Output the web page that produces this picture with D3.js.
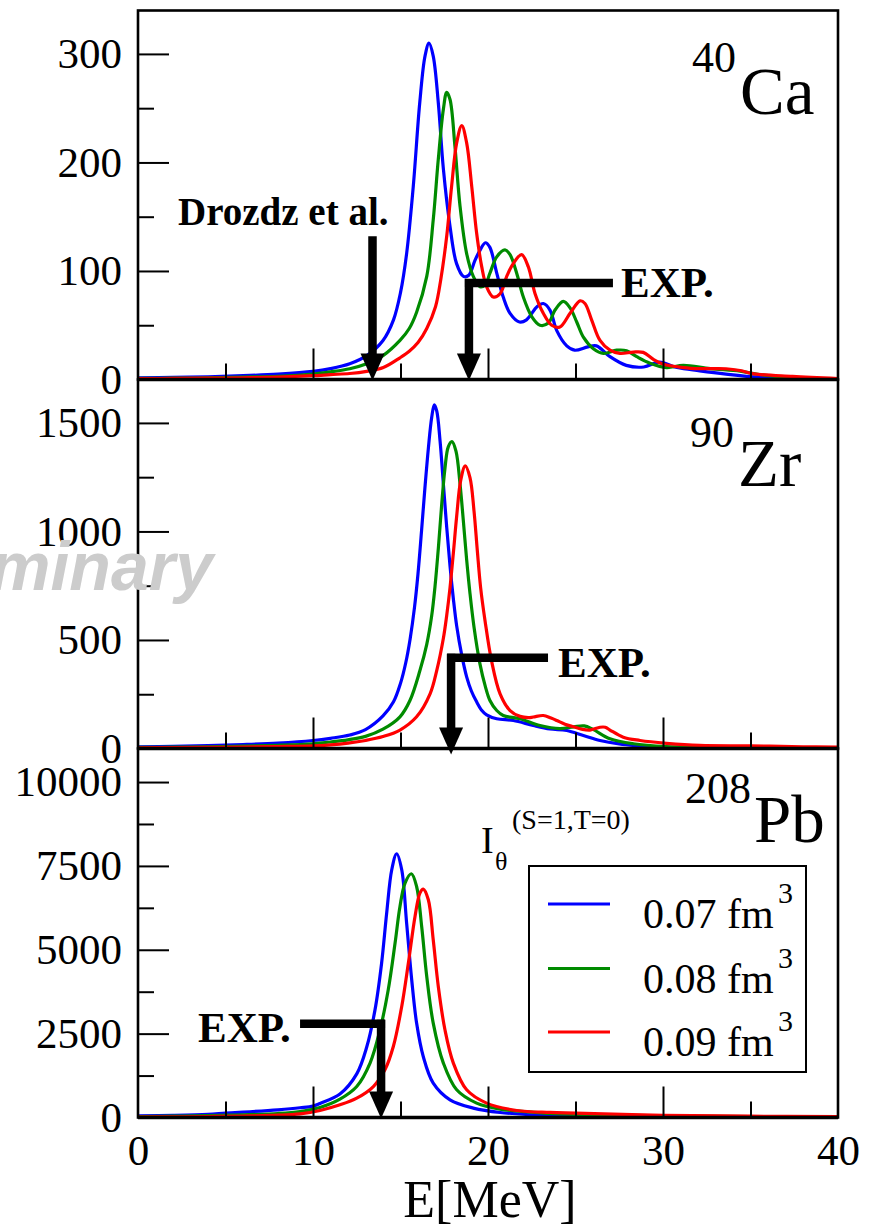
<!DOCTYPE html>
<html><head><meta charset="utf-8">
<script src="https://cdn.jsdelivr.net/npm/d3@7"></script>
<style>
html,body{margin:0;padding:0;background:#fff;}
svg{display:block;}
text{font-family:"Liberation Serif","Times New Roman",serif;fill:#000;}
</style></head>
<body>
<script>
// ---------------- DATA ----------------
const seriesNames = ["0.07 fm", "0.08 fm", "0.09 fm"];
const seriesColors = ["#0000ff", "#008b00", "#ff0000"];
const xTicksMajor = [0, 10, 20, 30, 40];
const xTicksMinor = [5, 15, 25, 35];

// 40Ca  [E (MeV), strength]
const caBlue = [[0,1.5],[2,2],[4,2.5],[6,3.5],[8,5],[10,7.5],[11,10],[12.1,14.5],[13.07,22],[14,36],[14.6,55],[15,80],[15.35,116],[15.73,178],[16.1,255],[16.4,298],[16.63,310],[16.87,298],[17.16,255],[17.45,194],[17.83,141],[18.2,107],[18.6,95],[18.9,96],[19.26,110],[19.54,119],[19.85,126],[20.1,122],[20.5,98],[20.87,76],[21.26,61],[21.8,53],[22.2,55],[22.8,67],[23.16,70],[23.54,64],[23.93,45],[24.5,31],[24.95,27],[25.7,30],[26.2,31],[26.97,21],[27.9,13],[28.9,11.5],[29.8,16],[30.8,11],[32.1,8],[33.6,5],[35.5,2],[37.4,0.8],[40,0.3]];
const caGreen = [[0,1],[2,1.2],[4,1.5],[6,2.2],[8,3],[10,5],[11,7],[12.1,9.9],[13.07,14.5],[14,22],[14.97,36],[15.5,47],[15.92,62],[16.5,95],[16.87,147],[17.16,203],[17.45,249],[17.64,264.5],[17.83,258],[18.11,215],[18.4,160],[18.78,116],[19.16,95],[19.54,85.5],[19.83,87],[20.11,98],[20.5,113],[20.97,119.4],[21.26,115],[21.64,98],[22.02,76],[22.5,58],[22.97,50],[23.45,52],[23.83,64],[24.3,72],[24.69,66],[25.07,53],[25.45,39],[26.02,28.4],[26.6,24],[27.35,27],[27.92,26.5],[28.5,21],[29.26,15],[30.2,11],[31.16,13],[32.7,10],[34.4,7.7],[35.5,4.6],[37.4,1.5],[40,0.5]];
const caRed = [[0,0.8],[2,1],[4,1.2],[6,1.6],[8,2.2],[10,3.5],[11,4.5],[12.1,5.5],[13.07,7.5],[14.02,11],[14.97,20],[15.5,26],[16,34],[16.5,47],[17,67],[17.3,92],[17.64,132],[17.92,178],[18.21,218],[18.5,234],[18.78,218],[19.07,178],[19.35,135],[19.64,104],[19.92,85.5],[20.3,76],[20.69,79],[21.07,95],[21.45,107],[21.92,115],[22.3,104],[22.69,79],[23.16,61],[23.64,50],[24.11,48.4],[24.69,61],[25.26,72.5],[25.54,70],[25.92,55],[26.4,36],[26.97,27],[27.54,24],[28.3,25.3],[28.87,25],[29.45,18.5],[30.02,14],[31.16,11],[32.1,10],[33.6,9.9],[34.4,8.3],[35.2,5.2],[37.4,2.8],[40,0.8]];

// 90Zr
const zrBlue = [[0,8],[2,10],[4,13],[6,18],[8,25],[10,37],[11,47],[12.1,62],[13,87],[14,150],[14.6,215],[15,300],[15.3,395],[15.55,505],[15.8,650],[16,805],[16.2,1000],[16.4,1205],[16.6,1390],[16.78,1524],[16.93,1583],[17.07,1555],[17.26,1417],[17.45,1218],[17.64,1020],[17.83,840],[18.02,690],[18.21,565],[18.5,430],[18.78,330],[19.05,265],[19.35,215],[19.65,175],[19.92,155],[20.5,137],[21.45,129],[22.59,106],[23.54,90],[24.5,83],[25.45,60],[26.4,37],[27.5,21],[28.5,13],[29.26,9],[31,5],[33,3],[36,2],[40,1]];
const zrGreen = [[0,5],[2,6],[4,8],[6,11],[8,15],[10,22],[11,30],[12,40],[13,56],[14,89],[14.97,146],[15.54,221],[16.11,359],[16.5,480],[16.78,610],[16.97,745],[17.16,920],[17.35,1120],[17.54,1290],[17.73,1390],[17.94,1414],[18.17,1370],[18.4,1220],[18.59,1050],[18.78,870],[18.97,715],[19.2,560],[19.54,390],[19.85,285],[20.11,221],[20.5,175],[20.87,152],[21.83,137],[22.97,106],[24.11,92],[24.9,100],[25.5,104],[26,88],[26.97,45],[28.3,22],[30.2,9],[32.1,6],[35,4],[40,2]];
const zrRed = [[0,3],[2,4],[4,5],[6,7],[8,9],[10,12],[11,17],[12,25],[13,37],[14,55],[14.97,85],[15.92,146],[16.69,252],[17.07,359],[17.45,508],[17.64,613],[17.83,741],[18.02,900],[18.21,1070],[18.44,1235],[18.7,1302],[18.97,1248],[19.2,1095],[19.39,911],[19.58,740],[19.83,589],[20.2,405],[20.69,252],[21.26,175],[21.83,148],[22.3,142],[22.59,145],[23.16,152],[23.6,140],[23.93,129],[24.4,112],[24.88,100],[25.4,88],[25.83,85],[26.4,98],[26.7,98],[26.97,85],[27.73,52],[28.69,37],[30.2,24],[32.1,14],[35,12],[38,8],[40,6]];

// 208Pb
const pbBlue = [[0,50],[2,65],[4,95],[5,131],[6,160],[8,230],[9.26,290],[10,340],[10.4,420],[11.54,700],[12.5,1300],[13.07,2100],[13.54,3200],[13.92,4600],[14.21,6094],[14.5,7385],[14.78,7862],[15.07,7385],[15.35,5796],[15.64,4106],[15.92,2815],[16.3,1819],[16.87,1026],[17.83,528],[19.16,280],[20.69,149],[23.54,60],[25,45],[30,20],[35,12],[40,8]];
const pbGreen = [[0,30],[2,40],[4,55],[6,80],[8,120],[9.26,179],[10.4,300],[11.54,548],[12.5,924],[13.26,1622],[13.83,2615],[14.3,3808],[14.69,5200],[14.97,6291],[15.26,6989],[15.62,7266],[15.92,6887],[16.21,5695],[16.5,4204],[16.87,2815],[17.45,1622],[18.21,826],[19.35,429],[20.69,250],[23.54,120],[25,95],[30,50],[35,30],[40,20]];
const pbRed = [[0,15],[2,20],[4,30],[6,45],[8,70],[9.26,110],[10.4,210],[11.54,379],[12.5,578],[13.45,924],[14.11,1422],[14.59,2117],[15.07,3310],[15.45,4603],[15.83,5993],[16.11,6690],[16.3,6810],[16.59,6491],[16.87,5298],[17.16,3906],[17.54,2615],[18.02,1622],[18.78,826],[19.92,429],[21.64,209],[23.54,150],[25,130],[30,65],[35,40],[40,25]];

const caYTicks = [0, 100, 200, 300];
const caYMinor = [50, 150, 250];
const zrYTicks = [0, 500, 1000, 1500];
const zrYMinor = [250, 750, 1250];
const pbYTicks = [0, 2500, 5000, 7500, 10000];
const pbYMinor = [1250, 3750, 6250, 8750];
const yMax = [340, 1700, 11000];

const nucleusMass = ["40", "90", "208"];
const nucleusName = ["Ca", "Zr", "Pb"];

// annotation arrows
const arrowE = [13.4, 18.91, 17.89, 13.89];
const arrowTopV = [132, 88.9, 418, 2794];
const arrowBarEndE = [null, 27.14, 23.43, 9.26];
const arrowPanel = [0, 0, 1, 2];
const arrowLabel = ["Drozdz et al.", "EXP.", "EXP.", "EXP."];

// ---------------- LAYOUT ----------------
const W = 874, H = 1228;
const L = 138, R = 838, PH = 369;
const tops = [10.5, 379.5, 748.5];
const svg = d3.select("body").append("svg").attr("width", W).attr("height", H);
const fmt = d3.format("d");

const x = d3.scaleLinear().domain([0, 40]).range([L, R]);
const panels = [
  {series: [caBlue, caGreen, caRed], ticks: caYTicks, minor: caYMinor},
  {series: [zrBlue, zrGreen, zrRed], ticks: zrYTicks, minor: zrYMinor},
  {series: [pbBlue, pbGreen, pbRed], ticks: pbYTicks, minor: pbYMinor}
];
const yScales = panels.map((p, i) => d3.scaleLinear().domain([0, yMax[i]]).range([tops[i] + PH, tops[i]]));

panels.forEach((p, i) => {
  const y = yScales[i];
  const g = svg.append("g");
  g.append("clipPath").attr("id", "clip" + i).append("rect")
    .attr("x", L).attr("y", tops[i]).attr("width", R - L).attr("height", PH);
  const line = d3.line().x(d => x(d[0])).y(d => y(d[1])).curve(d3.curveCatmullRom.alpha(0.5));
  const cg = g.append("g").attr("clip-path", `url(#clip${i})`);
  p.series.forEach((s, k) => {
    cg.append("path").datum(s).attr("d", line).attr("fill", "none")
      .attr("stroke", seriesColors[k]).attr("stroke-width", 3.2).attr("stroke-linejoin", "round");
  });
  const yAx = g.append("g").attr("transform", `translate(${L},0)`)
    .call(d3.axisLeft(y).tickValues(p.ticks).tickSize(-31).tickSizeOuter(0).tickPadding(16).tickFormat(fmt));
  const yMin = g.append("g").attr("transform", `translate(${L},0)`)
    .call(d3.axisLeft(y).tickValues(p.minor).tickSize(-16).tickSizeOuter(0).tickFormat(""));
  const xAx = g.append("g").attr("transform", `translate(0,${tops[i] + PH})`)
    .call(d3.axisBottom(x).tickValues(xTicksMajor.filter(v => v > 0 && v < 40)).tickSize(-31).tickSizeOuter(0).tickFormat(""));
  const xMin = g.append("g").attr("transform", `translate(0,${tops[i] + PH})`)
    .call(d3.axisBottom(x).tickValues(xTicksMinor).tickSize(-16).tickSizeOuter(0).tickFormat(""));
  [yAx, yMin, xAx, xMin].forEach(a => {
    a.select(".domain").remove();
    a.selectAll("line").attr("stroke", "#000").attr("stroke-width", 2);
    a.selectAll("text").attr("font-family", "Liberation Serif, Times New Roman, serif")
      .attr("font-size", 43).attr("fill", "#000");
  });
  g.append("rect").attr("x", L).attr("y", tops[i]).attr("width", R - L).attr("height", PH)
    .attr("fill", "none").attr("stroke", "#000").attr("stroke-width", 2.6);
  g.append("line").attr("x1", L).attr("x2", R).attr("y1", tops[i] + PH).attr("y2", tops[i] + PH)
    .attr("stroke", "#000").attr("stroke-width", 3.4);
});

// x tick labels on bottom panel
const xLab = svg.append("g").attr("transform", `translate(0,${tops[2] + PH})`)
  .call(d3.axisBottom(x).tickValues(xTicksMajor).tickSize(0).tickPadding(17).tickFormat(fmt));
xLab.select(".domain").remove();
xLab.selectAll("text").attr("font-family", "Liberation Serif, Times New Roman, serif")
  .attr("font-size", 43).attr("fill", "#000");

svg.append("text").attr("x", 490).attr("y", 1217).attr("text-anchor", "middle")
  .attr("font-size", 52).text("E[MeV]");

// nucleus labels
const supPos = [[692, 72], [690, 447], [685, 803]];
const mainPos = [[740, 114], [738, 486], [754, 842]];
nucleusMass.forEach((m, i) => {
  svg.append("text").attr("x", supPos[i][0]).attr("y", supPos[i][1]).attr("font-size", 44).text(m);
  svg.append("text").attr("x", mainPos[i][0]).attr("y", mainPos[i][1]).attr("font-size", 67).text(nucleusName[i]);
});

// I_theta^(S=1,T=0)
svg.append("text").attr("x", 481).attr("y", 853).attr("font-size", 38).text("I");
svg.append("text").attr("x", 495).attr("y", 870).attr("font-size", 26).text("θ");
svg.append("text").attr("x", 512).attr("y", 829).attr("font-size", 28).text("(S=1,T=0)");

// arrows
arrowE.forEach((e, j) => {
  const y = yScales[arrowPanel[j]];
  const ax = x(e), ay = y(arrowTopV[j]);
  const tipY = y(0) + (arrowPanel[j] === 1 ? 6 : 1);
  const headH = 27, headW = 12;
  const g = svg.append("g");
  g.append("line").attr("x1", ax).attr("x2", ax).attr("y1", ay - (arrowBarEndE[j] === null ? 0 : 4)).attr("y2", tipY - headH + 2)
    .attr("stroke", "#000").attr("stroke-width", 8.5);
  if (arrowBarEndE[j] !== null) {
    const bx = x(arrowBarEndE[j]);
    g.append("line").attr("x1", Math.min(ax, bx) - (bx < ax ? 0 : 4)).attr("x2", Math.max(ax, bx) + (bx < ax ? 4 : 0))
      .attr("y1", ay).attr("y2", ay).attr("stroke", "#000").attr("stroke-width", 8.5);
  }
  g.append("path").attr("d", `M${ax - headW},${tipY - headH} L${ax + headW},${tipY - headH} L${ax},${tipY} Z`).attr("fill", "#000");
});
svg.append("text").attr("x", 178).attr("y", 225).attr("font-size", 39).attr("font-weight", "bold").text(arrowLabel[0]);
svg.append("text").attr("x", 621).attr("y", 297).attr("font-size", 43).attr("font-weight", "bold").text(arrowLabel[1]);
svg.append("text").attr("x", 558).attr("y", 677).attr("font-size", 43).attr("font-weight", "bold").text(arrowLabel[2]);
svg.append("text").attr("x", 198).attr("y", 1042).attr("font-size", 43).attr("font-weight", "bold").text(arrowLabel[3]);

// legend
const lg = svg.append("g");
lg.append("rect").attr("x", 529).attr("y", 866).attr("width", 277).attr("height", 206)
  .attr("fill", "#fff").attr("stroke", "#000").attr("stroke-width", 2);
const legY = [904, 968.5, 1032];
seriesNames.forEach((n, k) => {
  lg.append("line").attr("x1", 548).attr("x2", 610).attr("y1", legY[k]).attr("y2", legY[k])
    .attr("stroke", seriesColors[k]).attr("stroke-width", 3);
  lg.append("text").attr("x", 643).attr("y", legY[k] + 24).attr("font-size", 42).text(n);
  lg.append("text").attr("x", 778).attr("y", legY[k] - 1).attr("font-size", 30).text("3");
});

// watermark
svg.append("text").attr("x", 213).attr("y", 590).attr("text-anchor", "end")
  .style("font-family", "Liberation Sans, Arial, sans-serif").attr("font-weight", "bold").attr("font-style", "italic")
  .attr("font-size", 68).style("fill", "#cccccc").text("Preliminary");
</script>
</body></html>
